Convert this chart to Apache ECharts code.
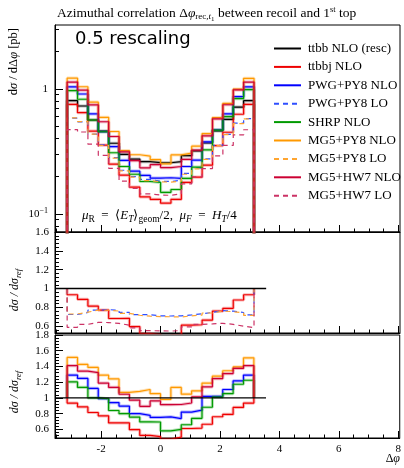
<!DOCTYPE html>
<html><head><meta charset="utf-8">
<script src="https://cdn.jsdelivr.net/npm/echarts@6/dist/echarts.min.js"></script>
<style>html,body{margin:0;padding:0;background:#fff}#c{width:404px;height:468px}</style>
</head><body><div id="c"></div>
<script>
// ---- data ----
const binEdges = [-3.1416,-2.7925,-2.4435,-2.0944,-1.7453,-1.3963,-1.0472,-0.6981,-0.3491,0,0.3491,0.6981,1.0472,1.3963,1.7453,2.0944,2.4435,2.7925,3.1416];
const ttbbNLO   = [0.806,0.731,0.565,0.460,0.368,0.300,0.275,0.262,0.258,0.257,0.262,0.293,0.320,0.370,0.463,0.571,0.715,0.806];
const ttbbjNLO  = [0.753,0.647,0.460,0.355,0.251,0.205,0.164,0.137,0.131,0.122,0.131,0.179,0.197,0.246,0.352,0.451,0.628,0.753];
const pwgNLO    = [1.040,0.912,0.633,0.455,0.346,0.269,0.220,0.204,0.194,0.195,0.193,0.240,0.270,0.377,0.472,0.632,0.870,1.040];
const pwgLO     = [0.584,0.545,0.435,0.357,0.283,0.224,0.199,0.189,0.183,0.182,0.186,0.211,0.234,0.276,0.354,0.434,0.533,0.580];
const shrpNLO   = [0.970,0.828,0.565,0.455,0.309,0.240,0.208,0.182,0.179,0.149,0.157,0.193,0.237,0.326,0.468,0.602,0.839,0.987];
const mg5py8NLO = [1.221,1.042,0.784,0.593,0.457,0.321,0.298,0.290,0.272,0.252,0.297,0.307,0.349,0.440,0.591,0.768,0.997,1.217];
const mg5py8LO  = [0.588,0.548,0.435,0.354,0.280,0.221,0.197,0.185,0.181,0.180,0.183,0.208,0.230,0.274,0.352,0.431,0.529,0.576];
const mg5hw7NLO = [1.136,0.980,0.746,0.547,0.417,0.314,0.267,0.234,0.248,0.235,0.240,0.274,0.324,0.422,0.577,0.748,0.983,1.136];
const mg5hw7LO  = [0.474,0.453,0.362,0.294,0.232,0.183,0.160,0.145,0.142,0.141,0.145,0.174,0.198,0.231,0.292,0.354,0.429,0.472];
const xTickValues = [-2,0,2,4,6,8];
const xTickLabels = ['-2','0','2','4','6','8'];
const mainYTicks = [0.1,1];
const ratioMidTicks = [0.6,0.8,1,1.2,1.4,1.6];
const ratioBotTicks = [0.6,0.8,1,1.2,1.4,1.6,1.8];

const SERIF = 'Liberation Serif';
const C = {black:'#000000', red:'#ee0000', blue:'#0000ff', blueLO:'#2f4fff', green:'#009a00',
  orange:'#ff9900', orangeLO:'#ffa530', crim:'#cc0033', crimLO:'#cc3366'};

const defs = [
  {name:'ttbb NLO (resc)', data:ttbbNLO, color:C.black, dash:false, panel:'ref'},
  {name:'ttbbj NLO', data:ttbbjNLO, color:C.red, dash:false, panel:'both'},
  {name:'PWG+PY8 NLO', data:pwgNLO, color:C.blue, dash:false, panel:'bot'},
  {name:'PWG+PY8 LO', data:pwgLO, color:C.blueLO, dash:true, panel:'mid'},
  {name:'SHRP NLO', data:shrpNLO, color:C.green, dash:false, panel:'bot'},
  {name:'MG5+PY8 NLO', data:mg5py8NLO, color:C.orange, dash:false, panel:'bot'},
  {name:'MG5+PY8 LO', data:mg5py8LO, color:C.orangeLO, dash:true, panel:'mid'},
  {name:'MG5+HW7 NLO', data:mg5hw7NLO, color:C.crim, dash:false, panel:'bot'},
  {name:'MG5+HW7 LO', data:mg5hw7LO, color:C.crimLO, dash:true, panel:'mid'}
];

function steps(vals, edgeVal){
  const p=[[binEdges[0],edgeVal]];
  for(let i=0;i<vals.length;i++){p.push([binEdges[i],vals[i]]);p.push([binEdges[i+1],vals[i]]);}
  p.push([binEdges[binEdges.length-1],edgeVal]);
  return p;
}
function ratio(vals){return vals.map((v,i)=>v/ttbbNLO[i]);}

const XMIN=-3.55, XMAX=8.05;
const grids=[
  {left:55, top:25, width:345, height:207},
  {left:55, top:232, width:345, height:101},
  {left:55, top:335, width:345, height:103}
];
function range(a,b,s){const r=[];for(let v=a;v<=b+1e-9;v+=s)r.push(+v.toFixed(4));return r;}
const xMinor = range(-3.5,8,0.5).filter(v=>!xTickValues.includes(v));

const xAxis=[], yAxis=[];
for(let g=0;g<3;g++){
  xAxis.push({type:'value',gridIndex:g,min:XMIN,max:XMAX,position:'bottom',
    axisLine:{show:true,onZero:false,lineStyle:{color:'#000',width:1}},
    axisTick:{show:true,inside:true,length:7,customValues:xTickValues,lineStyle:{color:'#000'}},
    axisLabel:{show:g===2,customValues:xTickValues,formatter:v=>xTickLabels[xTickValues.indexOf(v)] ?? '',
      fontFamily:SERIF,fontSize:11,color:'#000',margin:6},
    splitLine:{show:false}});
  xAxis.push({type:'value',gridIndex:g,min:XMIN,max:XMAX,position:'bottom',
    axisLine:{show:false,onZero:false},
    axisTick:{show:true,inside:true,length:3.5,customValues:xMinor,lineStyle:{color:'#000'}},
    axisLabel:{show:false},splitLine:{show:false}});
}
// main log axis
const mainMinor=[0.08,0.09,0.2,0.3,0.4,0.5,0.6,0.7,0.8,0.9,2,3];
yAxis.push({type:'log',logBase:10,gridIndex:0,min:0.0718,max:3.25,position:'left',
  axisLine:{show:true,onZero:false,lineStyle:{color:'#000'}},
  axisTick:{show:true,inside:true,length:8,customValues:mainYTicks,lineStyle:{color:'#000'}},
  axisLabel:{customValues:mainYTicks,fontFamily:SERIF,fontSize:11,color:'#000',margin:7,
    formatter:v=>Math.abs(v-1)<1e-6?'1':'10{sup|−1}',
    rich:{sup:{fontSize:8,fontFamily:SERIF,verticalAlign:'top',padding:[0,0,6,0]}}},
  splitLine:{show:false}});
yAxis.push({type:'log',logBase:10,gridIndex:0,min:0.0718,max:3.25,position:'left',
  axisLine:{show:false,onZero:false},axisTick:{show:true,inside:true,length:4,customValues:mainMinor,lineStyle:{color:'#000'}},
  axisLabel:{show:false},splitLine:{show:false}});
// ratio axes
function ratioAxes(g,min,max,ticks,minor){
  yAxis.push({type:'value',gridIndex:g,min:min,max:max,position:'left',
    axisLine:{show:true,onZero:false,lineStyle:{color:'#000'}},
    axisTick:{show:true,inside:true,length:8,customValues:ticks,lineStyle:{color:'#000'}},
    axisLabel:{customValues:ticks,fontFamily:SERIF,fontSize:11,color:'#000',margin:6,
      formatter:v=>(+v.toFixed(2)).toString()},
    splitLine:{show:false}});
  yAxis.push({type:'value',gridIndex:g,min:min,max:max,position:'left',
    axisLine:{show:false,onZero:false},axisTick:{show:true,inside:true,length:4,customValues:minor,lineStyle:{color:'#000'}},
    axisLabel:{show:false},splitLine:{show:false}});
}
ratioAxes(1,0.528,1.6,ratioMidTicks,range(0.56,1.56,0.04).filter(v=>!ratioMidTicks.some(t=>Math.abs(t-v)<1e-6)));
ratioAxes(2,0.49,1.8,ratioBotTicks,range(0.52,1.76,0.04).filter(v=>!ratioBotTicks.some(t=>Math.abs(t-v)<1e-6)));

const series=[];
function addLine(name,data,color,dash,xi,yi,z,band){
  if(band){
    series.push({type:'line',name:name+' band',data:data,xAxisIndex:xi,yAxisIndex:yi,showSymbol:false,symbol:'none',
      silent:true,z:z-1,lineStyle:{color:color,width:3.2,opacity:0.28},animation:false,legendHoverLink:false});
  }
  series.push({type:'line',name:name,data:data,xAxisIndex:xi,yAxisIndex:yi,symbol:'none',showSymbol:false,z:z,
    lineStyle:{color:color,width:1.2,type:dash?[5,4]:'solid'},itemStyle:{color:color},animation:false});
}
defs.forEach((d,k)=>{
  addLine(d.name,steps(d.data,1e-3),d.color,d.dash,0,0,10+k*2,!d.dash);
  if(d.panel==='mid'||d.panel==='both') addLine(d.name,steps(ratio(d.data),1),d.color,d.dash,2,2,10+k*2,!d.dash);
  if(d.panel==='bot'||d.panel==='both') addLine(d.name,steps(ratio(d.data),1),d.color,d.dash,4,4,10+k*2,!d.dash);
});
// reference line in ratio panels
[[2,2],[4,4]].forEach(([xi,yi])=>{
  series.push({type:'line',name:'ttbb NLO (resc)',data:[[XMIN,1],[3.55,1]],xAxisIndex:xi,yAxisIndex:yi,symbol:'none',
    z:40,lineStyle:{color:'#000',width:1.4},animation:false});
});

const chart=echarts.init(document.getElementById('c'),null,{renderer:'canvas'});
chart.setOption({
  animation:false,
  backgroundColor:'#fff',
  grid:grids.map(g=>Object.assign({show:true,borderColor:'#000',borderWidth:1,backgroundColor:'transparent'},g)),
  xAxis:xAxis, yAxis:yAxis, series:series,
  legend:{orient:'vertical',left:268,top:37,itemWidth:27,itemHeight:10,itemGap:5.4,
    data:defs.map(d=>d.name),selectedMode:false,itemStyle:{opacity:0},
    textStyle:{fontFamily:SERIF,fontSize:13,color:'#000',lineHeight:10,padding:[0,0,0,2]}},
  graphic:[
    {type:'text',left:57,top:5,style:{
      text:'Azimuthal correlation Δ{i|φ}{s|rec,}{si|t}{ss|1} between recoil and 1{sup|st} top',
      fontFamily:SERIF,fontSize:13.5,fill:'#000',
      rich:{i:{fontStyle:'italic',fontSize:13.5,fontFamily:SERIF},
            s:{fontSize:9,fontFamily:SERIF,padding:[8,0,0,0]},
            si:{fontSize:9,fontStyle:'italic',fontFamily:SERIF,padding:[8,0,0,0]},
            ss:{fontSize:7,fontFamily:SERIF,padding:[12,0,0,0]},
            sup:{fontSize:8.5,fontFamily:SERIF,padding:[0,0,7,0]}}}},
    {type:'text',x:75,y:30,style:{text:'0.5 rescaling',fontFamily:'DejaVu Sans',fontSize:18,fill:'#000'}},
    {type:'text',x:82,y:207,style:{
      text:'{i|μ}{s|R}  =  ⟨{i|E}{si|T}⟩{s|geom}/2,  {i|μ}{si|F}  =  {i|H}{si|T}/4',
      fontFamily:SERIF,fontSize:13,fill:'#000',
      rich:{i:{fontStyle:'italic',fontSize:13,fontFamily:SERIF},
            s:{fontSize:9.5,fontFamily:SERIF,padding:[7,0,0,0]},
            si:{fontSize:9.5,fontStyle:'italic',fontFamily:SERIF,padding:[7,0,0,0]}}}},
    {type:'text',x:14,y:28,rotation:Math.PI/2,style:{
      text:'d{i|σ} / dΔ{i|φ} [pb]',fontFamily:SERIF,fontSize:12.5,fill:'#000',align:'right',verticalAlign:'middle',
      rich:{i:{fontStyle:'italic',fontSize:12.5,fontFamily:SERIF}}}},
    {type:'text',x:15,y:290,rotation:Math.PI/2,style:{
      text:'{i|dσ / dσ}{s|ref}',fontFamily:SERIF,fontSize:12,fill:'#000',align:'center',verticalAlign:'middle',
      rich:{i:{fontStyle:'italic',fontSize:12,fontFamily:SERIF},s:{fontStyle:'italic',fontSize:8.5,fontFamily:SERIF,padding:[7,0,0,0]}}}},
    {type:'text',x:15,y:392,rotation:Math.PI/2,style:{
      text:'{i|dσ / dσ}{s|ref}',fontFamily:SERIF,fontSize:12,fill:'#000',align:'center',verticalAlign:'middle',
      rich:{i:{fontStyle:'italic',fontSize:12,fontFamily:SERIF},s:{fontStyle:'italic',fontSize:8.5,fontFamily:SERIF,padding:[7,0,0,0]}}}},
    {type:'text',x:400,y:459,style:{text:'Δ{i|φ}',fontFamily:SERIF,fontSize:12,fill:'#000',align:'right',verticalAlign:'middle',
      rich:{i:{fontStyle:'italic',fontSize:12,fontFamily:SERIF}}}}
  ]
});
</script></body></html>
